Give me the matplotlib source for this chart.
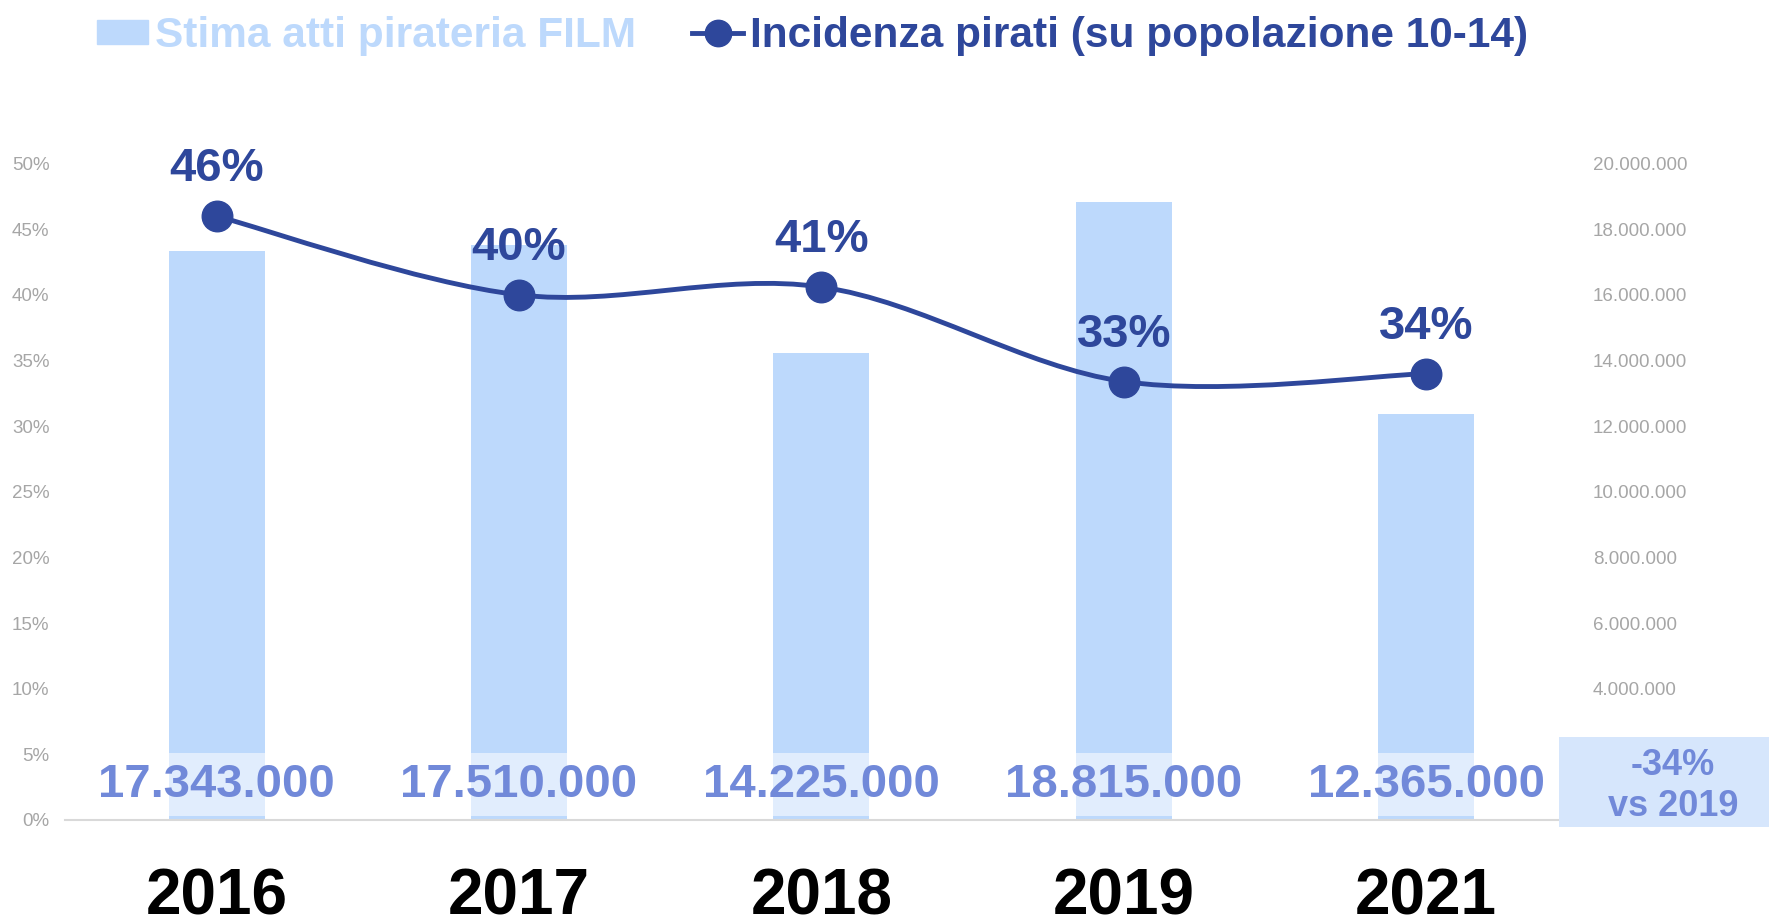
import numpy as np
import matplotlib.pyplot as plt
from matplotlib.path import Path
from matplotlib.patches import PathPatch, Rectangle, Patch
from matplotlib.lines import Line2D
from matplotlib.ticker import FuncFormatter, MultipleLocator

# dati
anni = ['2016', '2017', '2018', '2019', '2021']
atti_film = [17343000, 17510000, 14225000, 18815000, 12365000]
incidenza = [0.46, 0.40, 0.406, 0.334, 0.34]
nota_box = '-34%\nvs 2019'

bar_c = '#BDD9FC'
line_c = '#2E479B'
lab_c = '#7189D9'
box_c = '#D6E6FC'
grey = '#A6A6A6'
font = 'Liberation Sans'

W, H = 1769, 923
fig = plt.figure(figsize=(W / 100, H / 100), dpi=100)
ax = fig.add_axes([65.4 / W, (H - 820) / H, 1512 / W, (820 - 163.6) / H])
ax2 = ax.twinx()

x = np.arange(len(anni))

# --- barre (asse destro) ---
ax.bar(x, atti_film, width=0.317, color=bar_c, zorder=1)
ax.set_ylim(0, 20000000)
ax.set_xlim(-0.5, len(anni) - 0.5)
ax.yaxis.set_major_locator(MultipleLocator(2000000))
# le etichette sotto i 4 milioni sono coperte dal box nel grafico originale
ax.yaxis.set_major_formatter(FuncFormatter(
    lambda v, p: f"{int(v):,}".replace(',', '.') if v >= 4000000 else ''))
ax.yaxis.tick_right()
ax.tick_params(axis='y', length=0, pad=11.2, labelsize=13.5, labelcolor=grey)
for lab in ax.get_yticklabels():
    lab.set_fontfamily(font)

for i, v in enumerate(atti_film):
    ax.annotate(f"{v:,}".replace(',', '.'), xy=(i, 0), xytext=(0, 25.5),
                textcoords='offset points', ha='center', va='center',
                fontsize=34, fontweight='bold', color=lab_c, family=font, zorder=3,
                bbox=dict(boxstyle='square,pad=0.2', facecolor='white', alpha=0.55,
                          edgecolor='none'))

ax.set_xticks(x)
ax.set_xticklabels(anni, fontsize=46, fontweight='bold', family=font, color='black')
ax.tick_params(axis='x', length=0, pad=34)

for s in ['top', 'left', 'right']:
    ax.spines[s].set_visible(False)
    ax2.spines[s].set_visible(False)
ax.spines['bottom'].set_color('#D9D9D9')
ax.spines['bottom'].set_linewidth(1.5)
ax2.spines['bottom'].set_visible(False)


# --- linea smussata (asse sinistro) ---
def smooth_path(xs, ys):
    pts = np.column_stack([xs, ys]).astype(float)
    n = len(pts)
    verts = [pts[0]]
    codes = [Path.MOVETO]
    for i in range(n - 1):
        p0 = pts[max(i - 1, 0)]
        p1 = pts[i]
        p2 = pts[i + 1]
        p3 = pts[min(i + 2, n - 1)]
        verts += [p1 + (p2 - p0) / 6, p2 - (p3 - p1) / 6, p2]
        codes += [Path.CURVE4] * 3
    return Path(verts, codes)


ax2.add_patch(PathPatch(smooth_path(x, incidenza), facecolor='none', edgecolor=line_c,
                        lw=3.5, capstyle='round', zorder=2))
ax2.plot(x, incidenza, 'o', color=line_c, ms=22, zorder=3)
for i, v in enumerate(incidenza):
    ax2.annotate(f"{v:.0%}", xy=(i, v), xytext=(0, 25), textcoords='offset points',
                 ha='center', va='baseline', fontsize=34, fontweight='bold',
                 color=line_c, family=font)

ax2.set_ylim(0, 0.5)
ax2.yaxis.set_major_locator(MultipleLocator(0.05))
ax2.yaxis.set_major_formatter(FuncFormatter(lambda v, p: f"{v * 100:.0f}%"))
ax2.yaxis.tick_left()
ax2.tick_params(axis='y', length=0, pad=11.4, labelsize=13.5, labelcolor=grey)
for lab in ax2.get_yticklabels():
    lab.set_fontfamily(font)

# --- legenda ---
handles = [Patch(color=bar_c),
           Line2D([], [], color=line_c, lw=3.5, marker='o', ms=19)]
leg = fig.legend(handles, ['Stima atti pirateria FILM', 'Incidenza pirati (su popolazione 10-14)'],
                 loc='center left', bbox_to_anchor=(76 / W, 1 - 36 / H), ncol=2,
                 frameon=False, borderpad=0, handlelength=1.2, handleheight=0.5,
                 handletextpad=0.16, columnspacing=1.33,
                 prop=dict(family=font, weight='bold', size=30.5))
leg.get_texts()[0].set_color(bar_c)
leg.get_texts()[1].set_color(line_c)

# --- box variazione ---
fig.add_artist(Rectangle((1559 / W, (H - 827) / H), (W - 1559) / W, 90 / H,
                         transform=fig.transFigure, facecolor=box_c, edgecolor='none', zorder=5))
fig.text(1673 / W, (H - 786) / H, nota_box, ha='center', va='center', fontsize=26,
         fontweight='bold', color=lab_c, family=font, linespacing=1.2, zorder=6)

fig.savefig('out.png', dpi=100)
